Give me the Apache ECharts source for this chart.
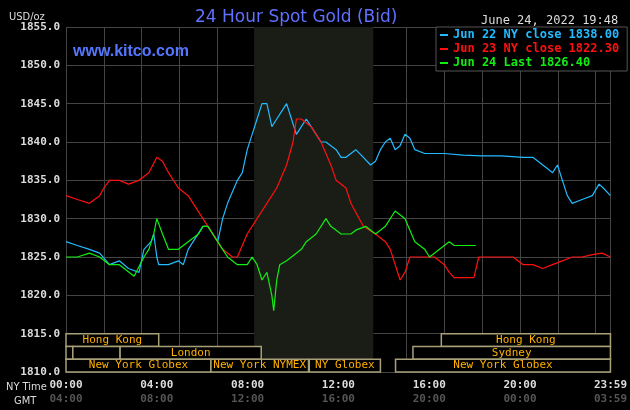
<!DOCTYPE html>
<html><head><meta charset="utf-8">
<script src="https://cdn.jsdelivr.net/npm/echarts@6/dist/echarts.min.js"></script>
<style>html,body{margin:0;background:#000}#c{width:630px;height:410px}</style>
</head><body><div id="c"></div>
<script>
// [minute of NY day, price]
const jun22 = [[0,1827],[30,1826.5],[62,1826],[89,1825.5],[115,1824],[141,1824.5],[165,1823.5],[193,1823],[206,1826],[225,1827],[232,1828],[240,1825],[245,1824],[271,1824],[297,1824.5],[310,1824],[323,1826],[336,1827],[362,1829],[375,1829],[388,1828],[401,1827],[414,1830],[427,1832],[453,1835],[466,1836],[479,1839],[492,1841],[505,1843],[518,1845],[531,1845],[544,1842],[557,1843],[570,1844],[583,1845],[596,1843],[609,1841],[622,1842],[635,1843],[648,1842],[661,1841],[674,1840],[687,1840],[714,1839],[727,1838],[740,1838],[753,1838.5],[766,1839],[786,1838],[805,1837],[818,1837.5],[831,1839],[844,1840],[857,1840.5],[870,1839],[883,1839.5],[896,1841],[909,1840.5],[922,1839],[948,1838.5],[1000,1838.5],[1050,1838.3],[1100,1838.2],[1150,1838.2],[1208,1838],[1234,1838],[1260,1837],[1273,1836.5],[1286,1836],[1299,1837],[1312,1835],[1325,1833],[1338,1832],[1364,1832.5],[1391,1833],[1409,1834.5],[1420,1834],[1439,1833]];
const jun23 = [[0,1833],[30,1832.5],[62,1832],[89,1833],[100,1834],[115,1835],[141,1835],[165,1834.5],[193,1835],[219,1836],[240,1838],[255,1837.5],[271,1836],[297,1834],[323,1833],[336,1832],[362,1830],[375,1829],[401,1827],[414,1826],[440,1825],[453,1825],[479,1828],[505,1830],[518,1831],[544,1833],[557,1834],[583,1837],[600,1840],[609,1843],[622,1843],[648,1842],[674,1840],[700,1837],[714,1835],[740,1834],[753,1832],[775,1830],[786,1829],[818,1828],[844,1827],[857,1826],[870,1824],[883,1822],[896,1823],[909,1825],[935,1825],[974,1825],[1000,1824],[1013,1823],[1026,1822.3],[1078,1822.3],[1091,1825],[1130,1825],[1182,1825],[1208,1824],[1234,1824],[1260,1823.5],[1286,1824],[1312,1824.5],[1338,1825],[1364,1825],[1391,1825.3],[1417,1825.5],[1439,1825]];
const jun24 = [[0,1825],[30,1825],[62,1825.5],[89,1825],[115,1824],[141,1824],[180,1822.5],[206,1825],[219,1826],[232,1828],[240,1830],[255,1828],[271,1826],[297,1826],[323,1827],[350,1828],[362,1829],[375,1829],[388,1828],[401,1827],[414,1826],[427,1825],[453,1824],[479,1824],[492,1825],[505,1824],[518,1822],[531,1823],[544,1820],[549,1818],[557,1822],[565,1824],[583,1824.5],[596,1825],[622,1826],[635,1827],[661,1828],[687,1830],[700,1829],[727,1828],[753,1828],[766,1828.5],[792,1829],[818,1828],[844,1829],[870,1831],[896,1830],[922,1827],[948,1826],[961,1825],[987,1826],[1013,1827],[1026,1826.5],[1083,1826.5]];
const yTicks = [1810,1815,1820,1825,1830,1835,1840,1845,1850,1855];
const nyLabels = {0:'00:00',240:'04:00',480:'08:00',720:'12:00',960:'16:00',1200:'20:00',1439:'23:59'};
const gmtLabels = {0:'04:00',240:'08:00',480:'12:00',720:'16:00',960:'20:00',1200:'00:00',1439:'03:59'};
// [start, end, row(0 top), label]
const sessions = [[0,245,0,'Hong Kong'],[992,1439,0,'Hong Kong'],[0,18,1,''],[18,143,1,''],[143,516,1,'London'],[917,1439,1,'Sydney'],[0,383,2,'New York Globex'],[383,641,2,'New York NYMEX'],[643,831,2,'NY Globex'],[871,1439,2,'New York Globex']];
const nymex = [497, 812];

const mono = 'DejaVu Sans Mono';
const chart = echarts.init(document.getElementById('c'));
const rowTop = [1815, 1813.333, 1811.667];
function line(d, c){return {type:'line',data:d,showSymbol:false,lineStyle:{color:c,width:1.2},itemStyle:{color:c},animation:false,z:5};}
const labelAxis = (labels, color, off) => ({type:'value',min:0,max:1439,interval:240,position:'bottom',offset:off,
  axisLine:{show:false},axisTick:{show:false},splitLine:{show:false},
  axisLabel:{showMaxLabel:true,showMinLabel:true,color:color,fontFamily:mono,fontSize:11,fontWeight:'bold',formatter:v=>labels[v]||''}});
chart.setOption({
  backgroundColor:'#000',
  animation:false,
  grid:{left:66,right:11,top:27,bottom:38},
  title:[{text:'24 Hour Spot Gold (Bid)',left:190,top:4,textStyle:{color:'#6070ff',fontSize:17,fontWeight:'normal',fontFamily:'DejaVu Sans'}},
    {text:'www.kitco.com',left:68,top:39,textStyle:{color:'#5577ff',fontSize:16,fontWeight:'bold',fontFamily:'Liberation Sans'}},
    {text:'USD/oz',left:4,top:7,textStyle:{color:'#ddd',fontSize:11,fontWeight:'normal',fontFamily:'DejaVu Sans Condensed'}},
    {text:'June 24, 2022 19:48',left:476,top:10,textStyle:{color:'#ddd',fontSize:12,fontWeight:'normal',fontFamily:mono}},
    {text:'NY Time',left:1,top:377,textStyle:{color:'#ddd',fontSize:11,fontWeight:'normal',fontFamily:'DejaVu Sans Condensed'}},
    {text:'GMT',left:9,top:391,textStyle:{color:'#ddd',fontSize:11,fontWeight:'normal',fontFamily:'DejaVu Sans Condensed'}}],
  legend:{show:true,left:436,top:27,orient:'vertical',itemGap:2,itemWidth:8,itemHeight:2,icon:'rect',
    backgroundColor:'#000',borderColor:'#555',borderWidth:1,padding:[2,8,2,4],
    textStyle:{fontFamily:mono,fontSize:12,fontWeight:'bold',color:'inherit'},
    data:['Jun 22 NY close 1838.00','Jun 23 NY close 1822.30','Jun 24 Last 1826.40']},
  xAxis:[{type:'value',min:0,max:1439,interval:100,axisLabel:{show:false},axisTick:{show:false},
    axisLine:{show:false},splitLine:{show:true,lineStyle:{color:'#444',width:1}}},
    labelAxis(nyLabels,'#ddd',0), labelAxis(gmtLabels,'#555',14)],
  yAxis:{type:'value',min:1810,max:1855,interval:5,axisLine:{show:false},axisTick:{show:false},
    splitLine:{lineStyle:{color:'#444'}},
    axisLabel:{color:'#ddd',fontFamily:mono,fontSize:11,fontWeight:'bold',margin:6,formatter:v=>v.toFixed(1)}},
  series:[
    Object.assign(line(jun22,'#22bbff'),{name:'Jun 22 NY close 1838.00',
      markArea:{silent:true,itemStyle:{color:'#1a1d16'},data:[[{xAxis:nymex[0]},{xAxis:nymex[1]}]]}}),
    Object.assign(line(jun23,'#ff1010'),{name:'Jun 23 NY close 1822.30'}),
    Object.assign(line(jun24,'#11ee11'),{name:'Jun 24 Last 1826.40'}),
    {type:'custom',z:6,data:sessions,renderItem:(p,api)=>{
      const s=api.value(0),e=api.value(1),r=api.value(2);
      const p1=api.coord([s,rowTop[r]]),p2=api.coord([e,rowTop[r]-1.6667]);
      const lab=sessions[p.dataIndex][3];
      return {type:'group',children:[
        {type:'rect',shape:{x:p1[0],y:p1[1],width:p2[0]-p1[0],height:p2[1]-p1[1]},style:{fill:'#000',stroke:'#a8a078',lineWidth:1.5}},
        {type:'text',style:{text:lab,x:(p1[0]+p2[0])/2,y:(p1[1]+p2[1])/2,align:'center',verticalAlign:'middle',fill:'#ffb000',font:'11px "DejaVu Sans Mono"'}}]};
    }}
  ]
});
</script></body></html>
